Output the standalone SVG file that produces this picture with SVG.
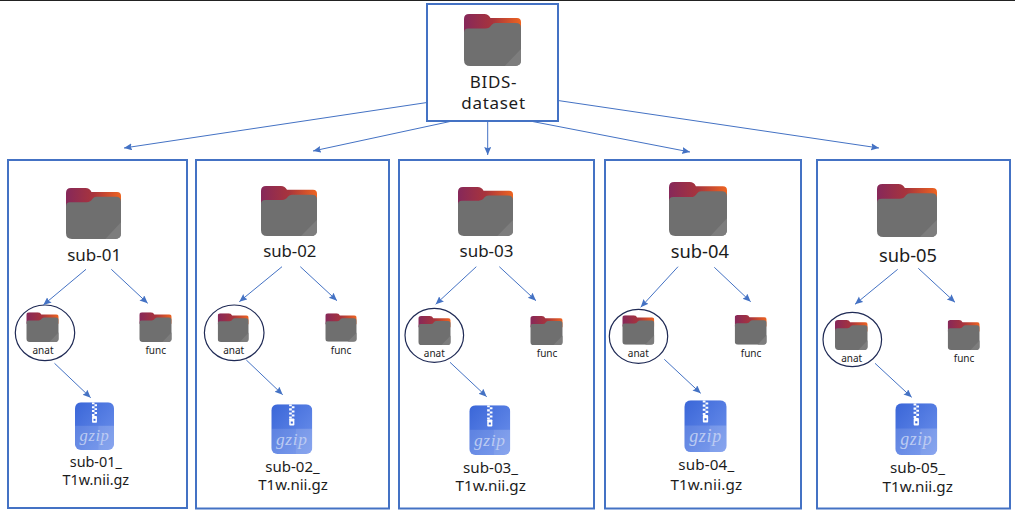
<svg xmlns="http://www.w3.org/2000/svg" width="1015" height="528" viewBox="0 0 1015 528">
<style>
text{font-family:"Noto Sans","Open Sans","Liberation Sans",sans-serif;fill:#1c1c1c;text-anchor:middle}
.sm{font-size:10px}
.panel{fill:#fff;stroke:#4472c4;stroke-width:2}
.ring{fill:none;stroke:#1f2a55;stroke-width:1.2}
#connectors line{stroke:#4472c4;stroke-width:1;marker-end:url(#arrow)}
.gz{font-family:"Liberation Serif",serif;font-style:italic;fill:#bccbf2;font-size:17px;letter-spacing:.6px}
.zp{stroke:#fff;stroke-width:2.600;stroke-dasharray:2 2}
</style>
<defs>
<marker id="arrow" markerUnits="userSpaceOnUse" markerWidth="9" markerHeight="8" refX="8" refY="3.500" orient="auto"><path d="M0 0L8 3.500L0 7L1.200 3.500Z" fill="#4472c4"/></marker>
<linearGradient id="back" x1="0" x2="1" y1="0" y2="0"><stop offset="0" stop-color="#86285a"/><stop offset=".5" stop-color="#a8343c"/><stop offset="1" stop-color="#ee6420"/></linearGradient>
<linearGradient id="zip" x1="0" x2="1" y1="0" y2="1"><stop offset="0" stop-color="#3a66d8"/><stop offset="1" stop-color="#6e92ec"/></linearGradient>
<symbol id="folder" viewBox="0 0 56 52" preserveAspectRatio="none">
<path d="M0 5Q0 0 5 0H20Q24 0 26 4H52Q56 4 56 8V20H0Z" fill="url(#back)"/>
<path d="M0 18.500Q0 14.500 4 14.500H21Q25 14.500 27 11Q28.500 9 31 9H51Q56 9 56 14V46Q56 52 50 52H6Q0 52 0 46Z" fill="#6f6f6f"/>
<path d="M56 35V46Q56 52 50 52H40Z" fill="#7d7d7d"/>
</symbol>
<symbol id="gzip" viewBox="0 0 40 49" preserveAspectRatio="none">
<rect width="40" height="49" rx="6" fill="url(#zip)"/>
<path d="M0 24H40V43Q40 49 34 49H6Q0 49 0 43Z" fill="#fff" opacity=".12"/>
<path d="M24 24H40V43Q40 49 34 49H24Z" fill="#fff" opacity=".08"/>
<path class="zp" d="M18.700 0V14"/><path class="zp" d="M21.300 2V14"/>
<rect x="17.500" y="14" width="5" height="7" rx=".8" fill="#fff"/><rect x="19" y="17" width="2" height="2" fill="#3a66d8"/>
<text class="gz" x="20" y="40">gzip</text>
</symbol>
</defs>
<rect width="1015" height="528" fill="#fff"/>
<path d="M0 .5H1015" stroke="#222" stroke-width="1"/>
<g id="node-root"><rect class="panel" x="427" y="4" width="131" height="117"/><use href="#folder" x="464" y="14" width="57" height="52"/><text style="font-size:17px;letter-spacing:.7px"><tspan x="493.500" y="87.500">BIDS-</tspan><tspan x="493.500" y="109">dataset</tspan></text></g>
<g id="node-sub-01"><rect class="panel" x="8" y="160" width="179" height="348"/><use href="#folder" x="66" y="188" width="55" height="51"/><text style="font-size:17px" x="94.200" y="260.700">sub-01</text></g>
<g id="node-sub-02"><rect class="panel" x="196" y="160" width="193" height="348.500"/><use href="#folder" x="261" y="186" width="56" height="50"/><text style="font-size:16.800px" x="289.800" y="256.700">sub-02</text></g>
<g id="node-sub-03"><rect class="panel" x="399" y="160" width="195" height="348.500"/><use href="#folder" x="458" y="187" width="55" height="49"/><text style="font-size:17px" x="486.500" y="256.700">sub-03</text></g>
<g id="node-sub-04"><rect class="panel" x="605" y="160" width="196" height="348.500"/><use href="#folder" x="669" y="182" width="58" height="54"/><text style="font-size:18.300px" x="699.800" y="258.300">sub-04</text></g>
<g id="node-sub-05"><rect class="panel" x="817" y="160" width="193" height="348.500"/><use href="#folder" x="877" y="184" width="60" height="53"/><text style="font-size:18.300px" x="908" y="261.700">sub-05</text></g>
<g id="node-anat-01"><ellipse class="ring" cx="45" cy="332.800" rx="29.700" ry="27.800"/><use href="#folder" x="26.300" y="312.300" width="32.400" height="29.700"/><text class="sm" x="43" y="354">anat</text></g>
<g id="node-func-01"><use href="#folder" x="139.300" y="312.300" width="32.400" height="29.700"/><text class="sm" x="155.700" y="354">func</text></g>
<g id="node-anat-02"><ellipse class="ring" cx="234.200" cy="332.800" rx="29.800" ry="27.800"/><use href="#folder" x="217.700" y="313.300" width="31" height="28.700"/><text class="sm" x="233.700" y="354">anat</text></g>
<g id="node-func-02"><use href="#folder" x="325.300" y="313.300" width="31.400" height="28.500"/><text class="sm" x="341" y="354">func</text></g>
<g id="node-anat-03"><ellipse class="ring" cx="434.300" cy="335.300" rx="29.300" ry="27"/><use href="#folder" x="418.300" y="316" width="32.400" height="29"/><text class="sm" x="434.300" y="357.300">anat</text></g>
<g id="node-func-03"><use href="#folder" x="530.300" y="316" width="32.400" height="29"/><text class="sm" x="547" y="357.300">func</text></g>
<g id="node-anat-04"><ellipse class="ring" cx="638.500" cy="336.300" rx="29.200" ry="27"/><use href="#folder" x="622.300" y="315.300" width="32" height="29.400"/><text class="sm" x="638.300" y="357.300">anat</text></g>
<g id="node-func-04"><use href="#folder" x="734.700" y="315" width="32" height="29.700"/><text class="sm" x="751" y="357.300">func</text></g>
<g id="node-anat-05"><ellipse class="ring" cx="852.300" cy="339.500" rx="29.300" ry="27.200"/><use href="#folder" x="835" y="320" width="32.700" height="30"/><text class="sm" x="851.700" y="361.700">anat</text></g>
<g id="node-func-05"><use href="#folder" x="947.700" y="320" width="32" height="30"/><text class="sm" x="964" y="361.700">func</text></g>
<g id="node-gz-01"><use href="#gzip" x="75" y="402.300" width="39" height="47.700"/><text style="font-size:14.400px"><tspan x="95.800" y="466.700">sub-01_</tspan><tspan x="95.800" y="485">T1w.nii.gz</tspan></text></g>
<g id="node-gz-02"><use href="#gzip" x="271.300" y="404.300" width="41" height="49.700"/><text style="font-size:15px"><tspan x="292.500" y="471.700">sub-02_</tspan><tspan x="293" y="490">T1w.nii.gz</tspan></text></g>
<g id="node-gz-03"><use href="#gzip" x="469.300" y="405.300" width="41" height="49.700"/><text style="font-size:15.200px"><tspan x="490.500" y="472.700">sub-03_</tspan><tspan x="490.700" y="491">T1w.nii.gz</tspan></text></g>
<g id="node-gz-04"><use href="#gzip" x="684.300" y="400.300" width="42.400" height="51.700"/><text style="font-size:15.200px;letter-spacing:.15px"><tspan x="706.300" y="469.700">sub-04_</tspan><tspan x="706.300" y="489.500">T1w.nii.gz</tspan></text></g>
<g id="node-gz-05"><use href="#gzip" x="895.300" y="403.300" width="42" height="51.700"/><text style="font-size:15.200px"><tspan x="917.500" y="472.700">sub-05_</tspan><tspan x="917.700" y="491.700">T1w.nii.gz</tspan></text></g>
<g id="connectors">
<line x1="427" y1="102.500" x2="124" y2="148"/><line x1="450" y1="121.500" x2="313" y2="151"/><line x1="487.700" y1="121" x2="487.700" y2="155"/><line x1="530" y1="121" x2="690" y2="152"/><line x1="558" y1="100.500" x2="879" y2="148"/>
<line x1="86" y1="269.300" x2="43.300" y2="305"/><line x1="111.300" y1="269.300" x2="147.700" y2="303.300"/><line x1="54.500" y1="363.300" x2="90.700" y2="397.700"/>
<line x1="282" y1="266.700" x2="239.300" y2="301.700"/><line x1="300.300" y1="266.700" x2="337" y2="300.700"/><line x1="246.300" y1="360" x2="282.700" y2="394.700"/>
<line x1="476.300" y1="266.700" x2="435.700" y2="304.300"/><line x1="499.300" y1="266.700" x2="536" y2="300.700"/><line x1="450" y1="362.300" x2="486.700" y2="396.700"/>
<line x1="678" y1="266.700" x2="640.700" y2="307.300"/><line x1="714.300" y1="267.300" x2="750.700" y2="301.700"/><line x1="664.300" y1="359.300" x2="700.700" y2="393.300"/>
<line x1="897.700" y1="269.300" x2="855" y2="304.300"/><line x1="918.300" y1="268.300" x2="955" y2="302.300"/><line x1="875" y1="363.300" x2="911.700" y2="397.300"/>
</g>
</svg>
